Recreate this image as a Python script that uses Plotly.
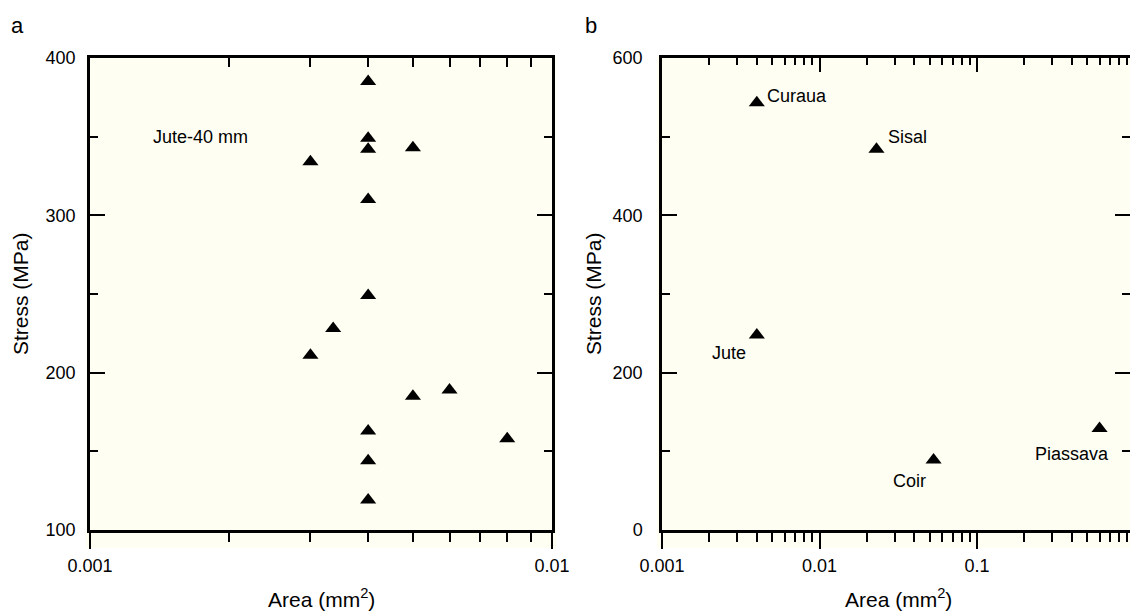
import numpy as np
import plotly.graph_objects as go

# ---------------- data ----------------
# Panel a: Jute-40 mm fibres
area_a = [0.004, 0.004, 0.004, 0.005, 0.003, 0.004, 0.004, 0.00336,
          0.003, 0.006, 0.005, 0.004, 0.004, 0.008, 0.004]
stress_a = [385, 349, 342, 343, 334, 310, 249, 228,
            211, 189, 185, 163, 144, 158, 119]

# Panel b: different fibres
fibers_b = ["Curaua", "Sisal", "Jute", "Coir", "Piassava"]
area_b = [0.004, 0.023, 0.004, 0.053, 0.6]
stress_b = [543, 484, 248, 89, 129]

xtick_vals_a = [0.001, 0.01]
xtick_text_a = ["0.001", "0.01"]
ytick_vals_a = [100, 200, 300, 400]
xtick_vals_b = [0.001, 0.01, 0.1]
xtick_text_b = ["0.001", "0.01", "0.1"]
ytick_vals_b = [0, 200, 400, 600]

minor_a = [k * 0.001 for k in range(2, 10)]
minor_b = [k * d for d in (0.001, 0.01, 0.1) for k in range(2, 10)]

# ---------------- style ----------------
FONT = "Liberation Sans, Arial, Helvetica, sans-serif"
CREAM = "rgb(254,254,242)"
LW = 2.5
TW = 2

W, H = 1130, 611
ML, MR, MT, MB = 90, 0, 58, 81
PW = W - ML - MR
dom_a = [0, 462 / PW]
dom_b = [572 / PW, 1.0]
range_b_hi = -3 + (PW - 572) / 157.5

fig = go.Figure()

marker = dict(symbol="triangle-up", size=14, color="black")
fig.add_trace(go.Scatter(x=area_a, y=stress_a, mode="markers", marker=marker,
                         xaxis="x", yaxis="y", showlegend=False))
fig.add_trace(go.Scatter(x=area_b, y=stress_b, mode="markers", marker=marker,
                         xaxis="x2", yaxis="y2", showlegend=False))
# empty traces so the mirrored helper axes exist
fig.add_trace(go.Scatter(x=[], y=[], xaxis="x3", yaxis="y", showlegend=False))
fig.add_trace(go.Scatter(x=[], y=[], xaxis="x4", yaxis="y2", showlegend=False))
fig.add_trace(go.Scatter(x=[], y=[], xaxis="x2", yaxis="y4", showlegend=False))

tickfont = dict(family=FONT, size=18, color="black")

fig.update_layout(
    width=W, height=H,
    margin=dict(l=ML, r=MR, t=MT, b=MB, pad=0, autoexpand=False),
    paper_bgcolor="white", plot_bgcolor=CREAM,
    font=dict(family=FONT, size=18, color="black"),
    showlegend=False,
    # ---- panel a ----
    xaxis=dict(type="log", domain=dom_a, range=[-3, -2], anchor="y", automargin=False,
               showline=True, linewidth=LW, linecolor="black", mirror=False,
               showgrid=False, zeroline=False,
               tickmode="array", tickvals=xtick_vals_a, ticktext=xtick_text_a,
               ticks="outside", ticklen=16, tickwidth=TW, tickcolor="black",
               tickfont=tickfont, ticklabelstandoff=2,
               minor=dict(tickmode="array", tickvals=minor_a, ticks="outside",
                          ticklen=9, tickwidth=TW, tickcolor="black", showgrid=False)),
    xaxis3=dict(type="log", domain=dom_a, range=[-3, -2], overlaying="x", side="top",
                anchor="y", automargin=False,
                showline=True, linewidth=LW, linecolor="black",
                showgrid=False, zeroline=False, showticklabels=False,
                tickmode="array", tickvals=minor_a, ticks="inside", ticklen=9,
                tickwidth=TW, tickcolor="black"),
    yaxis=dict(range=[100, 400], domain=[0, 1], anchor="x", automargin=False,
               showline=True, linewidth=LW, linecolor="black", mirror="ticks",
               showgrid=False, zeroline=False,
               tickmode="array", tickvals=ytick_vals_a,
               ticks="inside", ticklen=15, tickwidth=TW, tickcolor="black",
               tickfont=tickfont, ticklabelstandoff=8,
               minor=dict(dtick=50, ticks="inside", ticklen=8, tickwidth=TW,
                          tickcolor="black", showgrid=False)),
    # ---- panel b ----
    xaxis2=dict(type="log", domain=dom_b, range=[-3, range_b_hi], anchor="y2",
                automargin=False,
                showline=True, linewidth=LW, linecolor="black", mirror=False,
                showgrid=False, zeroline=False,
                tickmode="array", tickvals=xtick_vals_b, ticktext=xtick_text_b,
                ticks="outside", ticklen=16, tickwidth=TW, tickcolor="black",
                tickfont=tickfont, ticklabelstandoff=2,
                minor=dict(tickmode="array", tickvals=minor_b, ticks="outside",
                           ticklen=9, tickwidth=TW, tickcolor="black", showgrid=False)),
    xaxis4=dict(type="log", domain=dom_b, range=[-3, range_b_hi], overlaying="x2",
                side="top", anchor="y2", automargin=False,
                showline=True, linewidth=LW, linecolor="black",
                showgrid=False, zeroline=False, showticklabels=False,
                tickmode="array", tickvals=xtick_vals_b, ticks="inside", ticklen=14,
                tickwidth=TW, tickcolor="black",
                minor=dict(tickmode="array", tickvals=minor_b, ticks="inside",
                           ticklen=7, tickwidth=TW, tickcolor="black", showgrid=False)),
    yaxis2=dict(range=[0, 600], domain=[0, 1], anchor="x2", automargin=False,
                showline=True, linewidth=LW, linecolor="black", mirror=False,
                showgrid=False, zeroline=False,
                tickmode="array", tickvals=ytick_vals_b,
                ticks="inside", ticklen=15, tickwidth=TW, tickcolor="black",
                tickfont=tickfont, ticklabelstandoff=13,
                minor=dict(dtick=100, ticks="inside", ticklen=8, tickwidth=TW,
                           tickcolor="black", showgrid=False)),
    yaxis4=dict(range=[0, 600], domain=[0, 1], anchor="x2", overlaying="y2",
                side="right", automargin=False,
                showline=False, showgrid=False, zeroline=False,
                showticklabels=False,
                tickmode="array", tickvals=ytick_vals_b,
                ticks="inside", ticklen=15, tickwidth=TW, tickcolor="black",
                minor=dict(dtick=100, ticks="inside", ticklen=8, tickwidth=TW,
                           tickcolor="black", showgrid=False)),
)

# slightly larger cream backing, as in the scanned figure
fig.add_shape(type="rect", xref="x domain", yref="y domain",
              x0=-0.009, x1=1.009, y0=-0.038, y1=1.006,
              fillcolor=CREAM, line_width=0, layer="below")
fig.add_shape(type="rect", xref="x2 domain", yref="y2 domain",
              x0=-0.011, x1=1.0, y0=-0.038, y1=1.006,
              fillcolor=CREAM, line_width=0, layer="below")

ann_font = dict(family=FONT, size=18, color="black")
title_font = dict(family=FONT, size=21, color="black")

# panel a label inside plot
fig.add_annotation(x=np.log10(0.001356), y=350, xref="x", yref="y",
                   text="Jute-40 mm", showarrow=False, xanchor="left",
                   yanchor="middle", font=ann_font)

# panel b point labels: (xanchor, xshift, yshift)
label_offsets = {
    "Curaua": ("left", 8, 7),
    "Sisal": ("left", 10, 12),
    "Jute": ("right", -9, -18),
    "Coir": ("right", -6, -21),
    "Piassava": ("right", 11, -25),
}
for name, ax_, ay_ in zip(fibers_b, area_b, stress_b):
    xa, xs, ys = label_offsets[name]
    fig.add_annotation(x=np.log10(ax_), y=ay_, xref="x2", yref="y2", text=name,
                       showarrow=False, xanchor=xa, yanchor="middle",
                       xshift=xs, yshift=ys, font=ann_font)

# axis titles
for xr, yr, xs in (("x domain", "y domain", -70), ("x2 domain", "y2 domain", -69)):
    fig.add_annotation(x=0, y=0.5, xref=xr, yref=yr, text="Stress (MPa)",
                       textangle=-90, showarrow=False, xanchor="center",
                       yanchor="middle", xshift=xs, font=title_font)
for xr, yr, cx in (("x domain", "y domain", 0.5),
                   ("x2 domain", "y2 domain", (898 - 662) / (W - 662))):
    fig.add_annotation(x=cx, y=0, xref=xr, yref=yr, text="Area (mm<sup>2</sup>)",
                       showarrow=False, xanchor="center", yanchor="middle",
                       yshift=-68, font=title_font)

# panel letters
fig.add_annotation(x=(9 - ML) / PW, y=(530 - 26) / 472, xref="paper", yref="paper",
                   text="a", showarrow=False, xanchor="left", yanchor="middle",
                   font=dict(family=FONT, size=22, color="black"))
fig.add_annotation(x=(583 - ML) / PW, y=(530 - 26) / 472, xref="paper", yref="paper",
                   text="b", showarrow=False, xanchor="left", yanchor="middle",
                   font=dict(family=FONT, size=22, color="black"))

fig.write_html("out.html")
